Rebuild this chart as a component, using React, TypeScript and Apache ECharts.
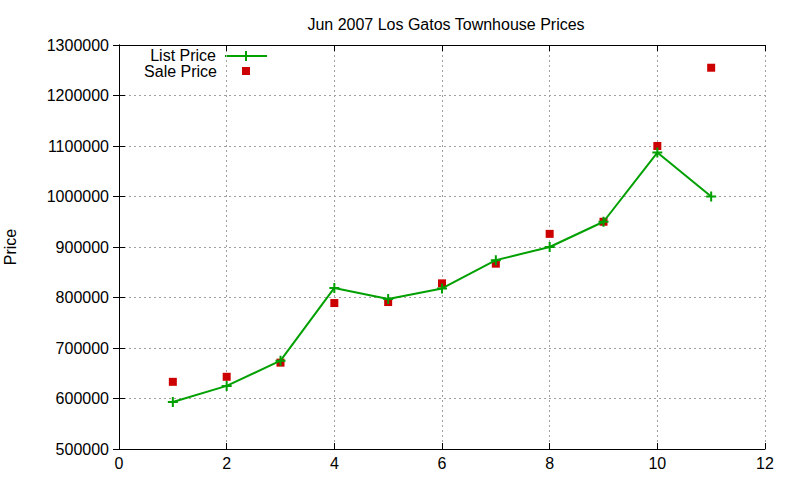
import { useEffect, useRef } from 'react';
import * as echarts from 'echarts';

const months = [1, 2, 3, 4, 5, 6, 7, 8, 9, 10, 11];
const listPrice = [593000, 625000, 675000, 819000, 797000, 818000, 874000, 900000, 950000, 1087000, 1000000];
const salePrice = [633000, 643000, 671000, 789000, 791000, 828000, 867000, 926000, 950000, 1100000, 1255000];

const GREEN = '#00a000';
const RED = '#cc0000';
const FONT = '"Liberation Sans", Arial, sans-serif';
const PLUS = 'path://M4,0H6V4H10V6H6V10H4V6H0V4H4Z';

function App() {
  const chartRef = useRef<HTMLDivElement>(null);

  useEffect(() => {
    if (!chartRef.current) return;
    const chart = echarts.init(chartRef.current, null, { renderer: 'svg' });

    const labelStyle = { color: '#000', fontSize: 16, fontFamily: FONT };
    const mirror = {
      axisLine: { show: true, lineStyle: { color: '#000', width: 1 } },
      axisTick: { show: true, inside: true, length: 6, lineStyle: { color: '#000' } },
      axisLabel: { show: false },
      splitLine: { show: false },
    };

    chart.setOption({
      animation: false,
      backgroundColor: '#fff',
      title: {
        text: 'Jun 2007 Los Gatos Townhouse Prices',
        left: 441,
        top: 11,
        textAlign: 'center',
        textStyle: { ...labelStyle, fontWeight: 'normal' },
      },
      grid: { left: 119, right: 35, top: 45, bottom: 31, containLabel: false, outerBoundsMode: 'none' },
      xAxis: [
        {
          type: 'value',
          min: 0,
          max: 12,
          interval: 2,
          axisLine: { show: true, lineStyle: { color: '#000', width: 1 } },
          axisTick: { show: true, inside: true, length: 6, lineStyle: { color: '#000' } },
          axisLabel: { ...labelStyle, margin: 6 },
          splitLine: { show: true, lineStyle: { color: '#a0a0a0', type: [2, 3], width: 1 } },
        },
        { type: 'value', min: 0, max: 12, interval: 2, position: 'top', ...mirror },
      ],
      yAxis: [
        {
          type: 'value',
          min: 500000,
          max: 1300000,
          interval: 100000,
          name: 'Price',
          nameLocation: 'middle',
          nameGap: 101,
          nameTextStyle: labelStyle,
          axisLine: { show: true, lineStyle: { color: '#000', width: 1 } },
          axisTick: { show: true, inside: true, length: 6, lineStyle: { color: '#000' } },
          axisLabel: { ...labelStyle, margin: 10, formatter: (v: number) => String(v) },
          splitLine: { show: true, lineStyle: { color: '#a0a0a0', type: [2, 3], width: 1 } },
        },
        { type: 'value', min: 500000, max: 1300000, interval: 100000, position: 'right', ...mirror },
      ],
      graphic: [
        {
          type: 'text',
          right: 800 - 216,
          top: 47,
          style: { text: 'List Price', fill: '#000', font: `16px ${FONT}` },
        },
        {
          type: 'line',
          shape: { x1: 225, y1: 56, x2: 267, y2: 56 },
          style: { stroke: GREEN, lineWidth: 2 },
        },
        {
          type: 'polygon',
          shape: {
            points: [
              [245, 51], [247, 51], [247, 55], [251, 55], [251, 57], [247, 57],
              [247, 61], [245, 61], [245, 57], [241, 57], [241, 55], [245, 55],
            ],
          },
          style: { fill: GREEN },
        },
        {
          type: 'text',
          right: 800 - 217,
          top: 63,
          style: { text: 'Sale Price', fill: '#000', font: `16px ${FONT}` },
        },
        {
          type: 'rect',
          shape: { x: 242, y: 67, width: 8, height: 8 },
          style: { fill: RED },
        },
      ],
      series: [
        {
          name: 'List Price',
          type: 'line',
          data: months.map((m, i) => [m, listPrice[i]]),
          symbol: PLUS,
          symbolSize: 10,
          showAllSymbol: true,
          lineStyle: { color: GREEN, width: 2 },
          itemStyle: { color: GREEN },
          z: 3,
        },
        {
          name: 'Sale Price',
          type: 'scatter',
          data: months.map((m, i) => [m, salePrice[i]]),
          symbol: 'rect',
          symbolSize: 8,
          itemStyle: { color: RED, opacity: 1 },
          z: 2,
        },
      ],
    });

    return () => chart.dispose();
  }, []);

  return (
    <div
      ref={chartRef}
      style={{ position: 'fixed', left: 0, top: 0, width: '800px', height: '480px' }}
    />
  );
}

export default App;
